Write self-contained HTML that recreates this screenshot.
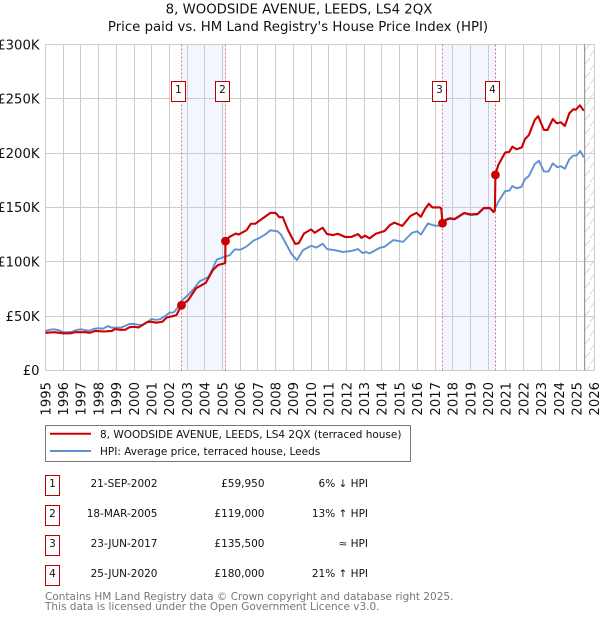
<!DOCTYPE html>
<html>
<head>
<meta charset="utf-8">
<title>8, Woodside Avenue price chart</title>
<style>
html,body{margin:0;padding:0;background:#fff;width:600px;height:620px;overflow:hidden}
svg{display:block}
text{font-family:"DejaVu Sans","Liberation Sans",sans-serif;fill:#111}
</style>
</head>
<body>
<svg id="chart" width="600" height="620" viewBox="0 0 600 620" xmlns="http://www.w3.org/2000/svg">
  <defs>
    <pattern id="hatch" patternUnits="userSpaceOnUse" width="10" height="14">
      <line x1="-1" y1="15" x2="11" y2="1" stroke="#ccc" stroke-width="0.8"/>
      <line x1="-1" y1="1" x2="1" y2="-1" stroke="#ccc" stroke-width="0.8"/>
    </pattern>
  </defs>
  <text x="299" y="13.5" text-anchor="middle" font-size="13.3">8, WOODSIDE AVENUE, LEEDS, LS4 2QX</text>
  <text x="298" y="31" text-anchor="middle" font-size="13.3">Price paid vs. HM Land Registry's House Price Index (HPI)</text>
  <g id="bands"></g>
  <g id="grid"></g>
  <rect x="584.5" y="44.5" width="10" height="326" fill="url(#hatch)"/>
  <line x1="584.6" y1="44.5" x2="584.6" y2="370.5" stroke="#999" stroke-width="1.2"/>
  <g id="ylabels"></g>
  <g id="xlabels"></g>
  <g id="vlines"></g>
  <polyline id="hpi-line" fill="none" stroke="#6090d2" stroke-width="1.9" stroke-linejoin="round"/>
  <polyline id="price-line" fill="none" stroke="#cc0000" stroke-width="2.1" stroke-linejoin="round"/>
  <g id="markers"></g>
  <g id="flags"></g>

  <g>
    <rect x="45.5" y="425.5" width="365" height="36" fill="#fff" stroke="#777" stroke-width="1"/>
    <line x1="50" y1="433.7" x2="91" y2="433.7" stroke="#cc0000" stroke-width="2"/>
    <text x="100" y="438" font-size="10.5">8, WOODSIDE AVENUE, LEEDS, LS4 2QX (terraced house)</text>
    <line x1="50" y1="451" x2="91" y2="451" stroke="#6090d2" stroke-width="2"/>
    <text x="100" y="455" font-size="10.5">HPI: Average price, terraced house, Leeds</text>
  </g>

  <g>
    <g>
      <rect x="45.5" y="475.5" width="14" height="20" fill="#fff" stroke="#b00" stroke-width="1"/>
      <text x="52.5" y="487" text-anchor="middle" font-size="10.5">1</text>
      <text x="157.5" y="487" text-anchor="end" font-size="10.5">21-SEP-2002</text>
      <text x="264.5" y="487" text-anchor="end" font-size="10.5">£59,950</text>
      <text x="368" y="487" text-anchor="end" font-size="10.5">6% ↓ HPI</text>
    </g>
    <g>
      <rect x="45.5" y="505.5" width="14" height="20" fill="#fff" stroke="#b00" stroke-width="1"/>
      <text x="52.5" y="517" text-anchor="middle" font-size="10.5">2</text>
      <text x="157.5" y="517" text-anchor="end" font-size="10.5">18-MAR-2005</text>
      <text x="264.5" y="517" text-anchor="end" font-size="10.5">£119,000</text>
      <text x="368" y="517" text-anchor="end" font-size="10.5">13% ↑ HPI</text>
    </g>
    <g>
      <rect x="45.5" y="535.5" width="14" height="20" fill="#fff" stroke="#b00" stroke-width="1"/>
      <text x="52.5" y="547" text-anchor="middle" font-size="10.5">3</text>
      <text x="157.5" y="547" text-anchor="end" font-size="10.5">23-JUN-2017</text>
      <text x="264.5" y="547" text-anchor="end" font-size="10.5">£135,500</text>
      <text x="368" y="547" text-anchor="end" font-size="10.5">≈ HPI</text>
    </g>
    <g>
      <rect x="45.5" y="565.5" width="14" height="20" fill="#fff" stroke="#b00" stroke-width="1"/>
      <text x="52.5" y="577" text-anchor="middle" font-size="10.5">4</text>
      <text x="157.5" y="577" text-anchor="end" font-size="10.5">25-JUN-2020</text>
      <text x="264.5" y="577" text-anchor="end" font-size="10.5">£180,000</text>
      <text x="368" y="577" text-anchor="end" font-size="10.5">21% ↑ HPI</text>
    </g>
  </g>

  <text x="45" y="600" font-size="10.5" style="fill:#777">Contains HM Land Registry data © Crown copyright and database right 2025.</text>
  <text x="45" y="610" font-size="10.5" style="fill:#777">This data is licensed under the Open Government Licence v3.0.</text>
</svg>
<script>
const yearTicks = [1995,1996,1997,1998,1999,2000,2001,2002,2003,2004,2005,2006,2007,2008,2009,2010,2011,2012,2013,2014,2015,2016,2017,2018,2019,2020,2021,2022,2023,2024,2025,2026];
const valueTicks = [0,50000,100000,150000,200000,250000,300000];
const valueTickLabels = ["£0","£50K","£100K","£150K","£200K","£250K","£300K"];
const saleDates = [2002.68,2005.165,2017.42,2020.41];
const salePrices = [59950,119000,135500,180000];
const saleNumbers = ["1","2","3","4"];
const hpiDates = [1995,1995.25,1995.5,1995.75,1996,1996.25,1996.5,1996.75,1997,1997.25,1997.5,1997.75,1998,1998.25,1998.53,1998.75,1999,1999.25,1999.5,1999.75,2000,2000.25,2000.5,2000.75,2001,2001.25,2001.5,2001.75,2002,2002.25,2002.45,2002.65,2003.05,2003.35,2003.7,2004.2,2004.45,2004.67,2005.1,2005.4,2005.7,2006,2006.35,2006.75,2007.1,2007.4,2007.7,2008.1,2008.3,2008.6,2008.9,2009.2,2009.55,2010,2010.3,2010.65,2010.9,2011.3,2011.8,2012.25,2012.65,2012.9,2013.1,2013.3,2013.9,2014.15,2014.65,2015.2,2015.7,2016,2016.2,2016.6,2016.9,2017.3,2017.65,2017.85,2018.1,2018.65,2019,2019.4,2019.75,2020.1,2020.3,2020.57,2020.95,2021.2,2021.37,2021.6,2021.88,2022.07,2022.3,2022.63,2022.87,2023.15,2023.4,2023.65,2023.9,2024.1,2024.33,2024.58,2024.8,2025,2025.2,2025.4];
const hpiValues = [36.3,37.5,37.8,37,35.2,35.2,35.6,37.2,37.8,37,36.6,38.3,38.8,38.4,40.8,39.3,39.5,39.3,41,42.8,42.7,42,42,44.6,47.4,46.5,47.3,50,53,53.5,57.5,63.5,69.3,74.5,82,86,94,102,104.5,106,111.5,111,114,119.5,122,125,129,128,125,116,107,101.5,110.8,114.7,113,116.6,111.7,110.8,109,109.8,111.7,108,109,107.7,113,113.8,120,118.4,126.7,128,125,135.3,133.5,133,138.5,139.5,139,144.5,143,143.5,149,149,146,155,165,165.5,169.7,167.6,169,175.9,178.9,190,193,183,183,190.6,187,188,185.6,194.3,197.6,198,202,196];
const priceDates = [1995,1995.5,1996,1996.4,1996.7,1997.25,1997.5,1997.8,1998.3,1998.75,1998.9,1999.2,1999.5,1999.75,2000,2000.25,2000.75,2001,2001.25,2001.6,2001.85,2002.2,2002.4,2002.68,2003.06,2003.5,2004.05,2004.45,2004.75,2005.1,2005.15,2005.165,2005.4,2005.75,2005.9,2006.35,2006.6,2006.85,2007.1,2007.7,2008,2008.2,2008.4,2008.7,2009.1,2009.3,2009.6,2010,2010.2,2010.65,2010.9,2011.25,2011.5,2011.95,2012.3,2012.65,2012.85,2013.05,2013.3,2013.65,2013.9,2014.15,2014.45,2014.7,2015.15,2015.6,2015.95,2016.2,2016.45,2016.65,2016.85,2017.28,2017.35,2017.42,2017.65,2017.85,2018.1,2018.65,2019,2019.4,2019.75,2020.1,2020.3,2020.38,2020.41,2020.57,2020.95,2021.2,2021.37,2021.6,2021.9,2022.07,2022.3,2022.63,2022.82,2023.15,2023.35,2023.65,2023.87,2024.1,2024.33,2024.58,2024.8,2024.95,2025.18,2025.4];
const priceValues = [34.6,35.2,34.1,34.1,35.2,35.2,34.6,36.3,35.8,36.3,38,37.4,37.4,39.8,40.1,39.5,44.5,44.8,43.9,44.8,48.7,50,51,59.95,64.7,75.5,80.6,92.3,97,98.5,99,119,123,126,125,129,135,135,138,145,145,141,141,129,116.5,117,126,129.8,126.7,131.3,125.5,124.6,125.8,122.7,123,125.5,122,124,121.5,125.8,127,128.3,133.8,136,133,142,145,141.4,149,153.4,150,150,149,135.5,139,140,139.3,145,143.6,144,149.5,149.5,145.8,147,180,189,200.4,201.3,206,203.5,205.3,212.7,216.7,230.5,234,221.3,221.3,231.4,227.4,228.4,225,236.6,240.3,240,244,239];

const NS = 'http://www.w3.org/2000/svg';
function xAt(year){ return 45.5 + (year - 1995) * 17.707; }
function yAt(value){ return 370.4 - value / 50000 * 54.32; }
function add(parent, tag, attrs, text){
  const el = document.createElementNS(NS, tag);
  for (const k in attrs) el.setAttribute(k, attrs[k]);
  if (text !== undefined) el.textContent = text;
  parent.appendChild(el);
  return el;
}
const bands = document.getElementById('bands');
const grid = document.getElementById('grid');
const ylabels = document.getElementById('ylabels');
const xlabels = document.getElementById('xlabels');
const vlines = document.getElementById('vlines');
const markers = document.getElementById('markers');
const flags = document.getElementById('flags');

for (let i = 0; i + 1 < saleDates.length; i += 2) {
  const band = add(bands, 'rect', {x: xAt(saleDates[i]), y: 44.5, width: xAt(saleDates[i+1]) - xAt(saleDates[i]), height: 326, fill: '#f3f6fe'});
  
  
}
yearTicks.forEach(function(year){
  const x = Math.round(xAt(year) - 0.5) + 0.5;
  const line = add(grid, 'line', {x1: x, x2: x, y1: 44.5, y2: 370.5, stroke: '#ccc', 'stroke-width': 1});
  
  
  const label = add(xlabels, 'text', {'text-anchor': 'end', 'font-size': 13.2, transform: 'translate(' + (xAt(year) + 4.8) + ',382) rotate(-90)'}, String(year));
  
  
});
valueTicks.forEach(function(value, i){
  const y = Math.round(yAt(value) - 0.5) + 0.5;
  const line = add(grid, 'line', {x1: 45.5, x2: 594.5, y1: y, y2: y, stroke: '#ccc', 'stroke-width': 1});
  
  
  const label = add(ylabels, 'text', {x: 39.5, y: yAt(value) + 4.8, 'text-anchor': 'end', 'font-size': 13.2}, valueTickLabels[i]);
  
  
});
function toPoints(dates, values){
  return dates.map(function(d, i){ return xAt(d).toFixed(2) + ',' + yAt(values[i] * 1000).toFixed(2); }).join(' ');
}
document.getElementById('hpi-line').setAttribute('points', toPoints(hpiDates, hpiValues));
document.getElementById('price-line').setAttribute('points', toPoints(priceDates, priceValues));
saleDates.forEach(function(date, i){
  const x = Math.floor(xAt(date)) + 0.5;
  const line = add(vlines, 'line', {x1: x, x2: x, y1: 44.5, y2: 370.5, stroke: '#e8707c', 'stroke-width': 1, 'stroke-dasharray': '2 2'});
  
  
  const dot = add(markers, 'circle', {cx: xAt(date), cy: yAt(salePrices[i]), r: 4.4, fill: '#cc0000'});
  
  
  const box = add(flags, 'rect', {x: x - 10, y: 81.5, width: 14, height: 20, fill: '#fff', stroke: '#b00', 'stroke-width': 1});
  
  
  const num = add(flags, 'text', {x: x - 3, y: 93, 'text-anchor': 'middle', 'font-size': 10.5}, saleNumbers[i]);
  
  
});
</script>
</body>
</html>
